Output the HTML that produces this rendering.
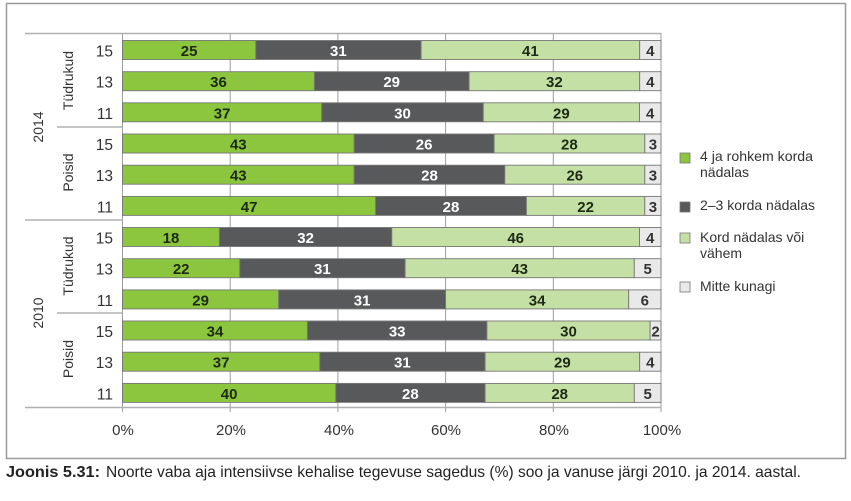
<!DOCTYPE html>
<html><head><meta charset="utf-8"><style>
html,body{margin:0;padding:0;background:#fff;}
svg{display:block;}
text{font-family:"Liberation Sans",sans-serif;}
</style></head><body>
<svg width="851" height="501" viewBox="0 0 851 501" xmlns="http://www.w3.org/2000/svg">
<rect x="0" y="0" width="851" height="501" fill="#fff"/>
<rect x="6.5" y="3.5" width="839" height="455" fill="none" stroke="#9a9a9a" stroke-width="1.5"/>
<!-- gridlines -->
<g stroke="#9d9d9d" stroke-width="1">
<line x1="122.5" y1="33" x2="122.5" y2="412"/>
<line x1="230.2" y1="33" x2="230.2" y2="412"/>
<line x1="337.9" y1="33" x2="337.9" y2="412"/>
<line x1="445.6" y1="33" x2="445.6" y2="412"/>
<line x1="553.3" y1="33" x2="553.3" y2="412"/>
<line x1="661" y1="33" x2="661" y2="412"/>
</g>
<g stroke="#b0b0b0" stroke-width="1.5">
<line x1="25" y1="33.5" x2="661" y2="33.5"/>
<line x1="25" y1="407.5" x2="661" y2="407.5"/>
<line x1="25" y1="220" x2="122.5" y2="220"/>
<line x1="57" y1="127" x2="122.5" y2="127"/>
<line x1="57" y1="313" x2="122.5" y2="313"/>
</g>
<!-- bars -->
<g stroke="#777" stroke-width="0.9">
<!-- row0 -->
<rect x="122.5" y="40.5" width="133.3" height="19" fill="#8cc63f"/>
<rect x="255.8" y="40.5" width="165.3" height="19" fill="#58595b"/>
<rect x="421.1" y="40.5" width="218.6" height="19" fill="#c5e0a5"/>
<rect x="639.7" y="40.5" width="21.3" height="19" fill="#e9e9ea"/>
<!-- row1 -->
<rect x="122.5" y="71.7" width="191.9" height="19" fill="#8cc63f"/>
<rect x="314.4" y="71.7" width="154.7" height="19" fill="#58595b"/>
<rect x="469.1" y="71.7" width="170.6" height="19" fill="#c5e0a5"/>
<rect x="639.7" y="71.7" width="21.3" height="19" fill="#e9e9ea"/>
<!-- row2 -->
<rect x="122.5" y="102.8" width="199.2" height="19" fill="#8cc63f"/>
<rect x="321.7" y="102.8" width="161.6" height="19" fill="#58595b"/>
<rect x="483.3" y="102.8" width="156.2" height="19" fill="#c5e0a5"/>
<rect x="639.5" y="102.8" width="21.5" height="19" fill="#e9e9ea"/>
<!-- row3 -->
<rect x="122.5" y="134" width="231.6" height="19" fill="#8cc63f"/>
<rect x="354.1" y="134" width="140" height="19" fill="#58595b"/>
<rect x="494.1" y="134" width="150.7" height="19" fill="#c5e0a5"/>
<rect x="644.8" y="134" width="16.2" height="19" fill="#e9e9ea"/>
<!-- row4 -->
<rect x="122.5" y="165.2" width="231.6" height="19" fill="#8cc63f"/>
<rect x="354.1" y="165.2" width="150.7" height="19" fill="#58595b"/>
<rect x="504.8" y="165.2" width="140" height="19" fill="#c5e0a5"/>
<rect x="644.8" y="165.2" width="16.2" height="19" fill="#e9e9ea"/>
<!-- row5 -->
<rect x="122.5" y="196.4" width="253.1" height="19" fill="#8cc63f"/>
<rect x="375.6" y="196.4" width="150.8" height="19" fill="#58595b"/>
<rect x="526.4" y="196.4" width="118.4" height="19" fill="#c5e0a5"/>
<rect x="644.8" y="196.4" width="16.2" height="19" fill="#e9e9ea"/>
<!-- row6 -->
<rect x="122.5" y="227.5" width="96.9" height="19" fill="#8cc63f"/>
<rect x="219.4" y="227.5" width="172.4" height="19" fill="#58595b"/>
<rect x="391.8" y="227.5" width="247.7" height="19" fill="#c5e0a5"/>
<rect x="639.5" y="227.5" width="21.5" height="19" fill="#e9e9ea"/>
<!-- row7 -->
<rect x="122.5" y="258.7" width="117.3" height="19" fill="#8cc63f"/>
<rect x="239.8" y="258.7" width="165.3" height="19" fill="#58595b"/>
<rect x="405.1" y="258.7" width="229.2" height="19" fill="#c5e0a5"/>
<rect x="634.3" y="258.7" width="26.7" height="19" fill="#e9e9ea"/>
<!-- row8 -->
<rect x="122.5" y="289.9" width="156.2" height="19" fill="#8cc63f"/>
<rect x="278.7" y="289.9" width="166.9" height="19" fill="#58595b"/>
<rect x="445.6" y="289.9" width="183.1" height="19" fill="#c5e0a5"/>
<rect x="628.7" y="289.9" width="32.3" height="19" fill="#e9e9ea"/>
<!-- row9 -->
<rect x="122.5" y="321" width="184.9" height="19" fill="#8cc63f"/>
<rect x="307.4" y="321" width="179.5" height="19" fill="#58595b"/>
<rect x="486.9" y="321" width="163.2" height="19" fill="#c5e0a5"/>
<rect x="650.1" y="321" width="10.9" height="19" fill="#e9e9ea"/>
<!-- row10 -->
<rect x="122.5" y="352.2" width="197.3" height="19" fill="#8cc63f"/>
<rect x="319.8" y="352.2" width="165.3" height="19" fill="#58595b"/>
<rect x="485.1" y="352.2" width="154.6" height="19" fill="#c5e0a5"/>
<rect x="639.7" y="352.2" width="21.3" height="19" fill="#e9e9ea"/>
<!-- row11 -->
<rect x="122.5" y="383.4" width="213.3" height="19" fill="#8cc63f"/>
<rect x="335.8" y="383.4" width="149.3" height="19" fill="#58595b"/>
<rect x="485.1" y="383.4" width="149.2" height="19" fill="#c5e0a5"/>
<rect x="634.3" y="383.4" width="26.7" height="19" fill="#e9e9ea"/>
</g>
<!-- bar labels -->
<g font-size="15" font-weight="bold" text-anchor="middle" fill="#1d2a14">
<text x="189.1" y="56">25</text><text x="338.4" y="56" fill="#fff">31</text><text x="530.4" y="56">41</text><text x="650.3" y="56" fill="#333">4</text>
<text x="218.5" y="87.2">36</text><text x="391.7" y="87.2" fill="#fff">29</text><text x="554.4" y="87.2">32</text><text x="650.3" y="87.2" fill="#333">4</text>
<text x="222.1" y="118.3">37</text><text x="402.5" y="118.3" fill="#fff">30</text><text x="561.4" y="118.3">29</text><text x="650.2" y="118.3" fill="#333">4</text>
<text x="238.3" y="149.5">43</text><text x="424.1" y="149.5" fill="#fff">26</text><text x="569.4" y="149.5">28</text><text x="652.9" y="149.5" fill="#333">3</text>
<text x="238.3" y="180.7">43</text><text x="429.5" y="180.7" fill="#fff">28</text><text x="574.8" y="180.7">26</text><text x="652.9" y="180.7" fill="#333">3</text>
<text x="249.1" y="211.9">47</text><text x="451" y="211.9" fill="#fff">28</text><text x="585.6" y="211.9">22</text><text x="652.9" y="211.9" fill="#333">3</text>
<text x="171" y="243">18</text><text x="305.6" y="243" fill="#fff">32</text><text x="515.7" y="243">46</text><text x="650.2" y="243" fill="#333">4</text>
<text x="181.2" y="274.2">22</text><text x="322.4" y="274.2" fill="#fff">31</text><text x="519.7" y="274.2">43</text><text x="647.7" y="274.2" fill="#333">5</text>
<text x="200.6" y="305.4">29</text><text x="362.1" y="305.4" fill="#fff">31</text><text x="537.1" y="305.4">34</text><text x="644.8" y="305.4" fill="#333">6</text>
<text x="215" y="336.5">34</text><text x="397.2" y="336.5" fill="#fff">33</text><text x="568.5" y="336.5">30</text><text x="655.6" y="336.5" fill="#333">2</text>
<text x="221.1" y="367.7">37</text><text x="402.4" y="367.7" fill="#fff">31</text><text x="562.4" y="367.7">29</text><text x="650.3" y="367.7" fill="#333">4</text>
<text x="229.1" y="398.9">40</text><text x="410.4" y="398.9" fill="#fff">28</text><text x="559.7" y="398.9">28</text><text x="647.7" y="398.9" fill="#333">5</text>
</g>
<!-- age labels -->
<g font-size="15.5" text-anchor="end" fill="#333">
<text x="113" y="56.5">15</text>
<text x="113" y="87.7">13</text>
<text x="113" y="118.8">11</text>
<text x="113" y="150">15</text>
<text x="113" y="181.2">13</text>
<text x="113" y="212.4">11</text>
<text x="113" y="243.5">15</text>
<text x="113" y="274.7">13</text>
<text x="113" y="305.9">11</text>
<text x="113" y="337">15</text>
<text x="113" y="368.2">13</text>
<text x="113" y="399.4">11</text>
</g>
<!-- group labels -->
<g font-size="14" text-anchor="middle" fill="#333">
<text transform="translate(43,127) rotate(-90)">2014</text>
<text transform="translate(43,313) rotate(-90)">2010</text>
<text transform="translate(73,80.5) rotate(-90)">Tüdrukud</text>
<text transform="translate(73,172.5) rotate(-90)">Poisid</text>
<text transform="translate(73,266) rotate(-90)">Tüdrukud</text>
<text transform="translate(73,359) rotate(-90)">Poisid</text>
</g>
<!-- x axis labels -->
<g font-size="15" text-anchor="middle" fill="#333">
<text x="123" y="435">0%</text>
<text x="231" y="435">20%</text>
<text x="339" y="435">40%</text>
<text x="446" y="435">60%</text>
<text x="554" y="435">80%</text>
<text x="662" y="435">100%</text>
</g>
<!-- legend -->
<rect x="680" y="153" width="10" height="10" fill="#8cc63f" stroke="#777" stroke-width="0.8"/>
<rect x="680" y="202" width="10" height="10" fill="#58595b" stroke="#777" stroke-width="0.8"/>
<rect x="680" y="233" width="10" height="10" fill="#c5e0a5" stroke="#777" stroke-width="0.8"/>
<rect x="680" y="282" width="10" height="10" fill="#e9e9ea" stroke="#777" stroke-width="0.8"/>
<g font-size="14" fill="#333">
<text x="700" y="161" textLength="113" lengthAdjust="spacingAndGlyphs">4 ja rohkem korda</text>
<text x="700" y="177">nädalas</text>
<text x="700" y="210" textLength="115" lengthAdjust="spacingAndGlyphs">2–3 korda nädalas</text>
<text x="700" y="242">Kord nädalas või</text>
<text x="700" y="258">vähem</text>
<text x="700" y="291">Mitte kunagi</text>
</g>
<!-- caption -->
<text x="6" y="477" font-size="16" font-weight="bold" fill="#222" textLength="94" lengthAdjust="spacingAndGlyphs">Joonis 5.31:</text>
<text x="106" y="477" font-size="16" fill="#222" textLength="695" lengthAdjust="spacingAndGlyphs">Noorte vaba aja intensiivse kehalise tegevuse sagedus (%) soo ja vanuse järgi 2010. ja 2014. aastal.</text>
</svg>
</body></html>
